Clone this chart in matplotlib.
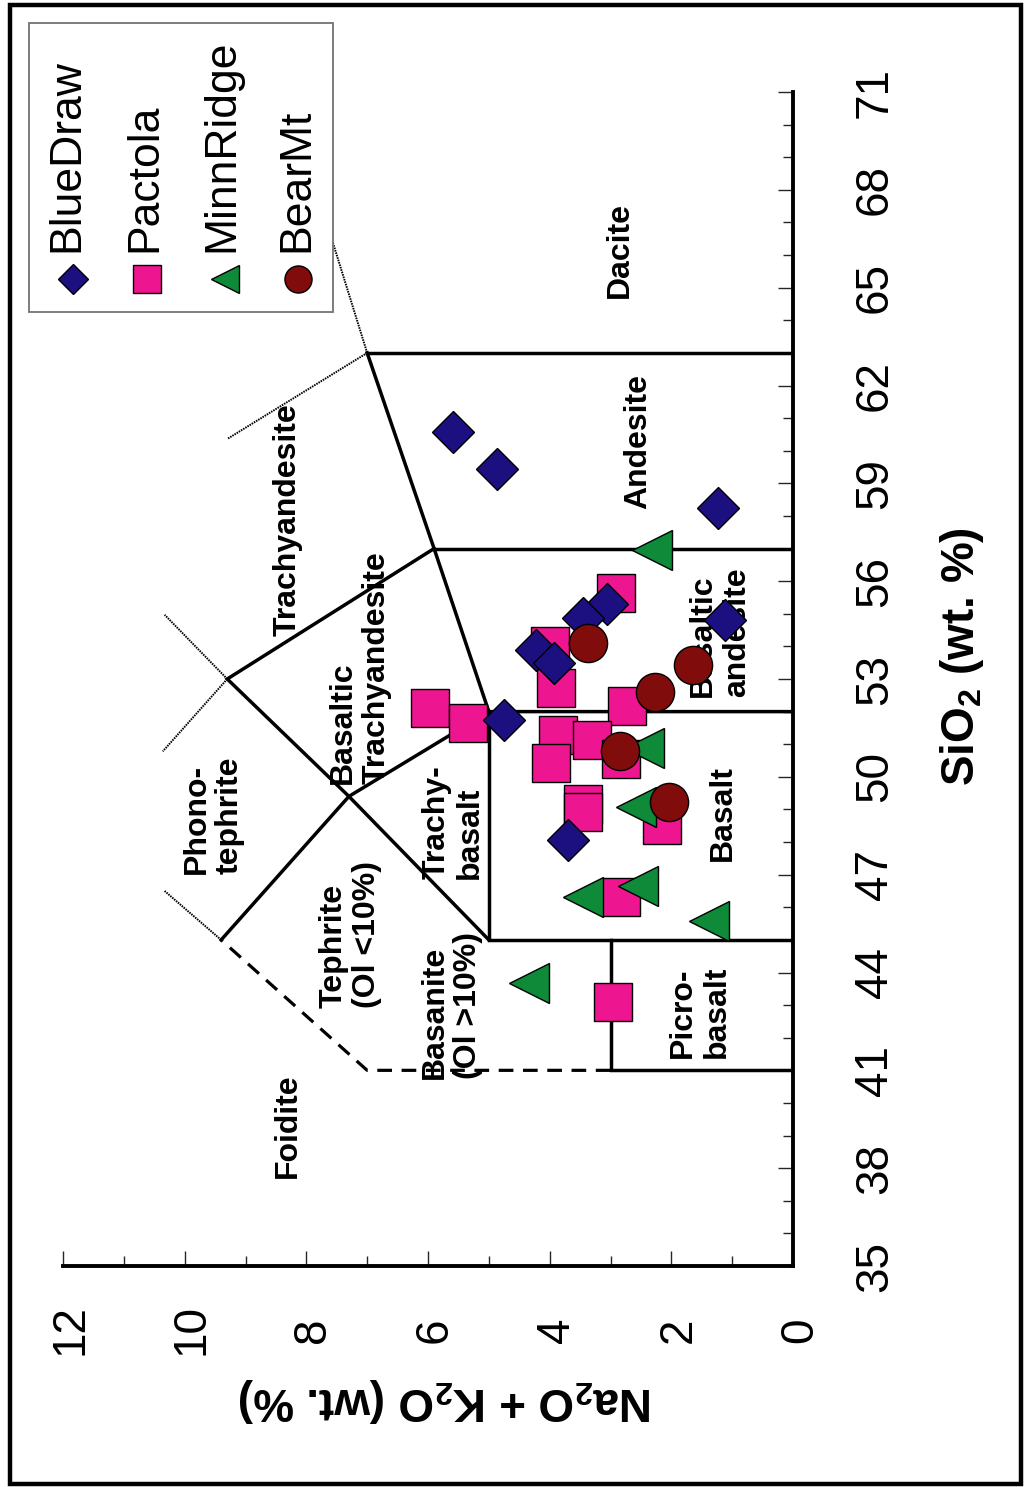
import matplotlib
matplotlib.use('Agg')
import matplotlib.pyplot as plt
from matplotlib.patches import Rectangle
from matplotlib.lines import Line2D
from matplotlib.transforms import ScaledTranslation

plt.rcParams['font.family'] = ['Liberation Sans', 'DejaVu Sans']
plt.rcParams['mathtext.fontset'] = 'custom'
plt.rcParams['mathtext.rm'] = 'Liberation Sans'
plt.rcParams['mathtext.bf'] = 'Liberation Sans:bold'

W, H = 1026, 1487

# total alkalis (Na2O + K2O) and SiO2, wt. %
bluedraw_alk = [5.59, 4.86, 1.23, 3.05, 3.46, 1.12, 4.22, 3.93, 4.75, 3.70]
bluedraw_si = [60.57, 59.44, 58.24, 55.29, 54.86, 54.81, 53.89, 53.50, 51.74, 48.06]

pactola_alk = [2.91, 3.99, 3.90, 5.96, 5.34, 2.73, 3.86, 3.30, 3.98, 2.83,
               3.45, 3.45, 2.16, 2.83, 2.96]
pactola_si = [55.65, 54.02, 52.72, 52.10, 51.64, 52.18, 51.28, 51.13, 50.43, 50.56,
              49.17, 48.93, 48.52, 46.31, 43.09]

minnridge_alk = [2.32, 2.45, 2.58, 3.46, 2.54, 1.38, 4.34]
minnridge_si = [56.96, 50.88, 49.08, 46.32, 46.65, 45.59, 43.68]

bearmt_alk = [3.37, 1.64, 2.27, 2.85, 2.04]
bearmt_si = [54.09, 53.43, 52.60, 50.79, 49.24]

series_names = ['BlueDraw', 'Pactola', 'MinnRidge', 'BearMt']

# TAS field boundaries as (SiO2, alkali) vertices
heavy_lines = [
    [(41, 0), (41, 3), (45, 3)],
    [(45, 0), (45, 5), (52, 5)],
    [(52, 0), (52, 5), (57, 5.9), (63, 7)],
    [(57, 0), (57, 5.9)],
    [(63, 0), (63, 7)],
    [(45, 5), (49.4, 7.3), (53, 9.3), (57, 5.9)],
    [(52, 5), (49.4, 7.3), (45, 9.4)],
]
dashed_lines = [[(41, 3), (41, 7), (45, 9.4)]]
thin_lines = [
    [(63, 7), (69, 8)],
    [(63, 7), (60.36, 9.3)],
    [(53, 9.3), (54.97, 10.33)],
    [(53, 9.3), (50.78, 10.36)],
    [(45, 9.4), (46.5, 10.33)],
]

field_names = ['Dacite', 'Andesite', 'Basaltic\nandesite', 'Basalt', 'Picro-\nbasalt',
               'Trachy-\nbasalt', 'Basaltic\nTrachyandesite', 'Trachyandesite',
               'Phono-\ntephrite', 'Tephrite\n(Ol <10%)', 'Basanite\n(Ol >10%)', 'Foidite']
field_si = [66.16, 60.27, 54.44, 48.89, 42.79, 48.62, 53.34, 57.88, 48.83, 45.15, 43.00, 39.29]
field_alk = [2.84, 2.55, 1.20, 1.15, 1.53, 5.59, 7.12, 8.30, 9.53, 7.28, 5.61, 8.30]

fig = plt.figure(figsize=(W / 100, H / 100), dpi=100)
ax = fig.add_axes([63 / W, (H - 1266) / H, 730 / W, 1174 / H])

# the diagram is turned on its side: alkalis run right-to-left, SiO2 runs upward
ax.set_xlim(12, 0)
ax.set_ylim(35, 71)

for seg in heavy_lines:
    ax.plot([p[1] for p in seg], [p[0] for p in seg], color='black', lw=2.5,
            solid_joinstyle='miter', zorder=2)
for seg in dashed_lines:
    ax.plot([p[1] for p in seg], [p[0] for p in seg], color='black', lw=2.3,
            linestyle=(0, (4.6, 3.0)), zorder=2)
for seg in thin_lines:
    ax.plot([p[1] for p in seg], [p[0] for p in seg], color='black', lw=1.4,
            linestyle=(0, (0.8, 0.5)), zorder=2)

for name, si, alk in zip(field_names, field_si, field_alk):
    ax.text(alk, si, name, rotation=90, ha='center', va='center', ma='left',
            fontsize=23, fontweight='bold', linespacing=1.15, zorder=3)

ax.plot(pactola_alk, pactola_si, 's', ms=27.5, mfc='#ee1590', mec='black', mew=1.0,
        ls='none', zorder=4)
ax.plot(bluedraw_alk, bluedraw_si, 'D', ms=21.5, mfc='#1c0f80', mec='black', mew=1.0,
        ls='none', zorder=5)
ax.plot(minnridge_alk, minnridge_si, '<', ms=29, mfc='#0f8a38', mec='black', mew=1.0,
        ls='none', zorder=6)
ax.plot(bearmt_alk, bearmt_si, 'o', ms=27.5, mfc='#800c0c', mec='black', mew=1.0,
        ls='none', zorder=7)

# axes, ticks and labels
for side in ['left', 'top']:
    ax.spines[side].set_visible(False)
for side in ['right', 'bottom']:
    ax.spines[side].set_linewidth(2.8)
ax.yaxis.tick_right()
ax.set_xticks(range(0, 13, 2))
ax.set_xticks(range(0, 13), minor=True)
ax.set_yticks(range(35, 72, 3))
ax.set_yticks(range(35, 72), minor=True)
ax.tick_params(which='both', direction='in', width=1.0, color='0.15')
ax.tick_params(which='major', length=11)
ax.tick_params(which='minor', length=7)
ax.tick_params(axis='x', labelsize=33, labelrotation=90, pad=46)
ax.tick_params(axis='y', labelsize=33, labelrotation=90, pad=59)
nudge = ScaledTranslation(7 / 100, 0, fig.dpi_scale_trans)
for lbl in ax.get_xticklabels():
    lbl.set_va('center')
    lbl.set_transform(lbl.get_transform() + nudge)
for lbl in ax.get_yticklabels():
    lbl.set_ha('center')
    lbl.set_va('center')

ax.yaxis.set_label_position('right')
ylab = ax.set_ylabel('SiO$_\\mathbf{2}$ (wt. %)', fontsize=33, fontweight='bold')
ylab.set_rotation(90)
ylab.set_rotation_mode('default')
ylab.set_ha('center')
ylab.set_va('center')
ax.yaxis.set_label_coords(1.2315, 0.5187)

xlab = ax.set_xlabel('Na$_\\mathbf{2}$O + K$_\\mathbf{2}$O (wt. %)', fontsize=33,
                     fontweight='bold')
xlab.set_rotation(180)
xlab.set_ha('center')
xlab.set_va('center')
ax.xaxis.set_label_coords(0.5247, -0.1141)


def px(x, y):
    return x / W, 1 - y / H


# legend box, laid on its side like the rest of the chart
lx0, ly0 = px(29, 312)
fig.add_artist(Rectangle((lx0, ly0), 304 / W, 289 / H, transform=fig.transFigure,
                         facecolor='white', edgecolor='0.45', lw=1.3, zorder=10))
legend_markers = [('D', 15.2, '#1c0f80'), ('s', 19.5, '#ee1590'),
                  ('<', 20, '#0f8a38'), ('o', 19.5, '#800c0c')]
marker_x = [73, 147, 225, 298]
text_x = [67, 145, 222, 297]
for name, (mk, size, col), mx, tx in zip(series_names, legend_markers, marker_x, text_x):
    fig.add_artist(Line2D([px(mx, 279)[0]], [px(mx, 279)[1]], transform=fig.transFigure,
                          marker=mk, ms=size, mfc=col, mec='black', mew=1.0, ls='none',
                          zorder=11))
    fig.text(*px(tx, 252), name, rotation=90, ha='center', va='bottom', fontsize=32,
             zorder=11)

# outer frame
fig.add_artist(Rectangle(px(10, 1484), 1011 / W, 1479 / H, transform=fig.transFigure,
                         fill=False, edgecolor='black', lw=3.2, zorder=12))

fig.savefig('out.png', dpi=100)
